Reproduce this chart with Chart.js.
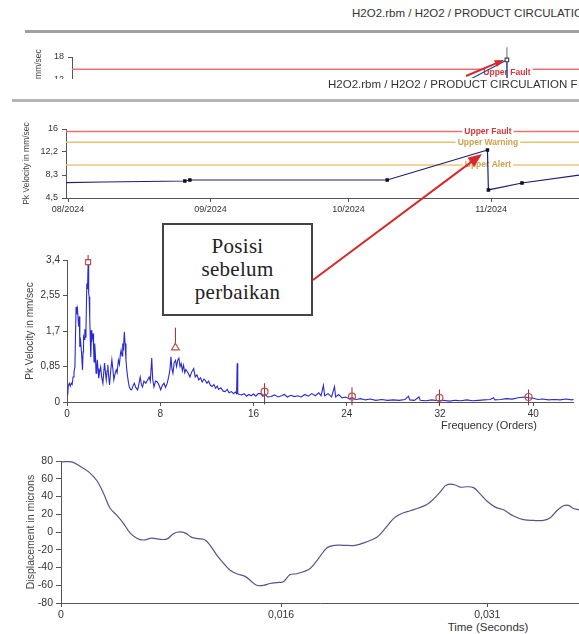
<!DOCTYPE html>
<html>
<head>
<meta charset="utf-8">
<script src="https://cdn.jsdelivr.net/npm/chart.js@4.4.1/dist/chart.umd.min.js"></script>
<style>
  html, body { margin: 0; padding: 0; background: #fff; }
  body { width: 579px; height: 634px; position: relative; overflow: hidden;
         font-family: "Liberation Sans", Arial, sans-serif; }
  .abs { position: absolute; }
  .title { position: absolute; white-space: nowrap; font-size: 11.5px; color: #333; }
  .axtitle { position: absolute; white-space: nowrap; font-size: 11px; color: #333; transform: translate(-50%, -50%); }
  .rule { position: absolute; background: #a0a0a0; }
  #note { position: absolute; left: 162px; top: 223px; width: 151px; height: 93px; box-sizing: border-box;
          border: 2px solid #444; background: #fff; z-index: 5;
          display: flex; flex-direction: column; justify-content: center; align-items: center;
          font-family: "Liberation Serif", "Times New Roman", serif; font-size: 21px; line-height: 23px;
          color: #222; letter-spacing: 0.3px; }
  #ov { position: absolute; left: 0; top: 0; z-index: 10; pointer-events: none; }
</style>
</head>
<body>

<div class="title" style="left:352px; top:7px;">H2O2.rbm / H2O2 / PRODUCT CIRCULATION F</div>
<div class="rule" style="left:25px; top:30px; width:554px; height:3px;"></div>

<div class="abs" style="left:0; top:40px; width:579px; height:39px; overflow:hidden;">
  <canvas id="snip" width="579" height="100" style="position:absolute; left:0; top:0;"></canvas>
</div>
<div class="title" style="left:328px; top:78px; background:#fff;">H2O2.rbm / H2O2 / PRODUCT CIRCULATION F</div>
<div class="rule" style="left:12px; top:99px; width:567px; height:3px; background:#b4b4b4;"></div>

<canvas id="trend" width="579" height="112" class="abs" style="left:0; top:110px;"></canvas>

<div id="note"><div>Posisi</div><div>sebelum</div><div>perbaikan</div></div>

<canvas id="spec" width="579" height="190" class="abs" style="left:0; top:240px;"></canvas>
<div class="axtitle" style="left:489px; top:425px;">Frequency (Orders)</div>

<canvas id="wave" width="579" height="175" class="abs" style="left:0; top:445px;"></canvas>
<div class="axtitle" style="left:488px; top:627px; font-size:11.5px;">Time (Seconds)</div>

<canvas id="ov" width="579" height="634"></canvas>

<script>
// ---- trend: days counted from 01/08/2024 ----
const trendDays = [-0.43, 7.6, 25.4, 26.5, 69.4, 91.2, 91.4, 98.7, 111.1];
const trendVals = [7.05, 7.17, 7.33, 7.5, 7.5, 12.5, 5.85, 7.0, 8.33];
const trendTickDays = [0, 31, 61, 92];
const trendTickLabels = ['08/2024', '09/2024', '10/2024', '11/2024'];
const trendYTicks = [4.5, 8.333, 12.167, 16];
const trendYLabels = ['4,5', '8,3', '12,2', '16'];
const limitNames = ['Upper Fault', 'Upper Warning', 'Upper Alert'];
const limitVals = [15.6, 13.8, 10.0];
const cursorDay = 91.3;

// ---- small cut-off trend at the top ----
const snipDays = [-0.4, 69.3, 91.3, 91.4, 106.5];
const snipVals = [2.3, 2.5, 17.2, 2.0, 3.0];
const snipFault = 14.7;
const snipYTicks = [0, 6, 12, 18];

// ---- spectrum ----
const specOrders = [
  0.05, 0.12, 0.2, 0.28, 0.36, 0.44, 0.52, 0.6, 0.68, 0.73,
  0.78, 0.84, 0.9, 0.96, 1.01, 1.06, 1.1, 1.17, 1.25, 1.29,
  1.33, 1.38, 1.42, 1.48, 1.53, 1.58, 1.63, 1.7, 1.76, 1.81,
  1.86, 1.9, 1.95, 1.98, 2.04, 2.08, 2.12, 2.18, 2.24, 2.28,
  2.32, 2.36, 2.4, 2.45, 2.49, 2.55, 2.6, 2.66, 2.72, 2.8,
  2.89, 2.97, 3.08, 3.15, 3.22, 3.3, 3.37, 3.44, 3.5, 3.58,
  3.65, 3.75, 3.85, 3.93, 4.02, 4.1, 4.22, 4.3, 4.41, 4.5,
  4.58, 4.64, 4.72, 4.78, 4.85, 4.92, 4.98, 5.06, 5.12, 5.2,
  5.28, 5.35, 5.45, 5.55, 5.65, 5.77, 5.9, 6.06, 6.15, 6.28,
  6.38, 6.48, 6.6, 6.76, 6.9, 7.05, 7.15, 7.27, 7.35, 7.46,
  7.6, 7.75, 7.9, 8.04, 8.18, 8.32, 8.45, 8.6, 8.72, 8.83,
  8.92, 9.0, 9.09, 9.2, 9.31, 9.4, 9.5, 9.6, 9.7, 9.8,
  9.9, 10.0, 10.1, 10.2, 10.4, 10.55, 10.7, 10.87, 11.0, 11.15,
  11.3, 11.45, 11.6, 11.75, 11.86, 12.0, 12.15, 12.3, 12.45, 12.6,
  12.75, 12.9, 13.0, 13.2, 13.4, 13.56, 13.75, 13.9, 14.1, 14.3,
  14.45, 14.55, 14.6, 14.65, 14.8, 14.97, 15.2, 15.4, 15.6, 15.8,
  16.0, 16.2, 16.4, 16.6, 16.8, 17.0, 17.2, 17.5, 17.8, 18.1,
  18.4, 18.65, 18.9, 19.2, 19.5, 19.8, 20.1, 20.4, 20.7, 21.0,
  21.3, 21.6, 21.8, 22.0, 22.1, 22.4, 22.7, 22.95, 23.05, 23.3,
  23.6, 23.9, 24.2, 24.5, 24.8, 25.2, 25.6, 26.0, 26.5, 27.0,
  27.5, 28.0, 28.5, 29.0, 29.3, 29.4, 29.8, 30.2, 30.3, 30.8,
  31.3, 31.8, 32.3, 32.8, 33.3, 33.8, 34.3, 34.8, 35.3, 35.8,
  36.3, 36.6, 36.7, 37.2, 37.7, 38.2, 38.7, 39.2, 39.6, 40.0,
  40.4, 40.8, 41.3, 41.8, 42.3, 42.8, 43.3, 43.48
];
const specVals = [
  0.15, 0.40, 0.45, 0.38, 0.45, 0.42, 0.60, 0.72, 0.84, 1.6,
  2.28, 2.1, 2.22, 1.95, 1.8, 2.05, 1.32, 1.45, 1.17, 0.95,
  0.77, 1.2, 1.56, 1.5, 1.74, 1.55, 1.75, 2.84, 2.7, 3.3,
  2.6, 2.52, 2.0, 1.72, 1.08, 1.45, 1.72, 1.5, 1.64, 1.3,
  0.96, 1.2, 1.4, 1.05, 0.69, 0.85, 1.01, 0.8, 0.57, 0.72,
  0.84, 0.6, 0.45, 0.7, 0.93, 0.7, 0.53, 0.75, 0.89, 0.6,
  0.41, 0.75, 1.01, 0.8, 0.53, 0.65, 0.77, 0.7, 1.0, 0.9,
  1.15, 1.24, 1.1, 1.4, 1.3, 1.68, 1.4, 1.0, 0.8, 0.6,
  0.45, 0.36, 0.3, 0.29, 0.38, 0.45, 0.35, 0.29, 0.4, 0.6,
  0.42, 0.36, 0.5, 0.45, 0.52, 0.6, 0.5, 1.05, 0.55, 0.36,
  0.5, 0.48, 0.4, 0.29, 0.4, 0.45, 0.35, 0.45, 0.6, 0.77,
  1.08, 0.8, 0.69, 0.95, 1.0, 0.85, 1.0, 1.05, 0.85, 0.92,
  0.75, 0.88, 0.7, 0.78, 0.69, 0.6, 0.72, 0.8, 0.6, 0.65,
  0.53, 0.58, 0.48, 0.55, 0.52, 0.45, 0.5, 0.4, 0.37, 0.42,
  0.33, 0.38, 0.3, 0.34, 0.26, 0.25, 0.3, 0.22, 0.25, 0.2,
  0.24, 0.2, 0.93, 0.2, 0.18, 0.17, 0.2, 0.14, 0.18, 0.15,
  0.19, 0.14, 0.2, 0.2, 0.14, 0.18, 0.12, 0.13, 0.17, 0.12,
  0.15, 0.18, 0.12, 0.16, 0.13, 0.15, 0.12, 0.18, 0.14, 0.2,
  0.15, 0.22, 0.15, 0.4, 0.15, 0.2, 0.12, 0.37, 0.12, 0.18,
  0.1, 0.12, 0.08, 0.1, 0.06, 0.08, 0.05, 0.07, 0.04, 0.06,
  0.04, 0.05, 0.04, 0.06, 0.14, 0.05, 0.04, 0.12, 0.04, 0.03,
  0.05, 0.03, 0.04, 0.02, 0.04, 0.03, 0.05, 0.03, 0.04, 0.05,
  0.06, 0.1, 0.05, 0.06, 0.08, 0.07, 0.1, 0.12, 0.1, 0.09,
  0.06, 0.07, 0.05, 0.06, 0.05, 0.07, 0.05, 0.06
];
const specXTicks = [0, 8, 16, 24, 32, 40];
const specYTicks = [0, 0.85, 1.7, 2.55, 3.4];
const specYLabels = ['0', '0,85', '1,7', '2,55', '3,4'];
// harmonic cursors
const peakOrders = [1.81, 9.3, 16.95, 24.45, 31.95, 39.6];
const peakVals = [3.35, 1.3, 0.25, 0.13, 0.1, 0.12];
const cursorBottom = [3.39, 1.37, -0.06, -0.08, -0.08, -0.08];
const cursorTop = [3.52, 1.78, 0.45, 0.35, 0.3, 0.3];

// ---- waveform ----
const waveTime = [
  0, 0.00078, 0.00138, 0.00199, 0.0026, 0.00308, 0.00356, 0.00405, 0.00453, 0.00502,
  0.00551, 0.00599, 0.0066, 0.00708, 0.00769, 0.00817, 0.00853, 0.00902, 0.00951, 0.00999,
  0.01048, 0.01084, 0.01133, 0.01181, 0.0123, 0.01278, 0.01339, 0.01387, 0.01424, 0.01472,
  0.01521, 0.01569, 0.01617, 0.01666, 0.01715, 0.01812, 0.01872, 0.01933, 0.01993, 0.02054,
  0.02139, 0.02224, 0.02297, 0.02357, 0.02418, 0.02466, 0.02539, 0.02599, 0.02661, 0.02709,
  0.02757, 0.02794, 0.0283, 0.02867, 0.02903, 0.02952, 0.03, 0.03048, 0.03097, 0.03158,
  0.03218, 0.03291, 0.03363, 0.03436, 0.03509, 0.03558, 0.03606, 0.03654, 0.03691, 0.03727,
  0.03767
];
const waveDisp = [
  79, 79, 74, 68, 58, 44, 27, 19, 10, -1,
  -7, -9, -7, -8, -8, -2, 0, -1, -6, -7.5,
  -9, -15, -26, -35, -43, -47, -50, -56, -60, -60,
  -58, -57, -56, -48, -47, -41, -30, -18, -15, -15,
  -15, -11, -6, 4, 15, 20, 24, 27, 31, 37,
  45, 52, 54, 53, 50.5, 51, 50, 43, 35, 28,
  25, 18, 14, 13, 13, 16, 24, 29.5, 30, 26.5,
  25
];
const waveXTicks = [0, 0.016, 0.031];
const waveXLabels = ['0', '0,016', '0,031'];
const waveYTicks = [-80, -60, -40, -20, 0, 20, 40, 60, 80];

Chart.defaults.font.family = '"Liberation Sans", Arial, sans-serif';
Chart.defaults.color = '#333';
Chart.defaults.animation = false;
Chart.defaults.plugins.legend.display = false;
Chart.defaults.plugins.tooltip.enabled = false;

const pts = (xs, ys) => xs.map((x, i) => ({ x: x, y: ys[i] }));
const AXIS = '#555';

// axis with explicit ticks
function axis(opts) {
  return {
    type: 'linear',
    min: opts.min,
    max: opts.max,
    afterBuildTicks: s => { s.ticks = opts.ticks.map(v => ({ value: v })); },
    afterFit: s => { if (opts.size == null) return; if (s.isHorizontal()) s.height = opts.size; else s.width = opts.size; },
    ticks: {
      autoSkip: false, maxRotation: 0, padding: opts.pad || 3, color: '#333',
      font: { size: opts.font || 10 },
      callback: (v, i) => opts.labels ? opts.labels[i] : String(v)
    },
    grid: { drawOnChartArea: false, tickLength: opts.tick || 4, color: AXIS },
    border: { color: AXIS, width: 1 },
    title: opts.title ? { display: true, text: opts.title, color: '#444',
                          font: { size: opts.titleSize || 10 }, padding: { top: 4, bottom: 4 } } : { display: false }
  };
}

// writes the limit name over its own threshold line
const limitLabels = {
  id: 'limitLabels',
  afterDatasetDraw(chart, args) {
    const ds = chart.data.datasets[args.index];
    if (!ds.limitName) return;
    const { ctx, scales: { x, y } } = chart;
    const px = x.getPixelForValue(ds.labelAt);
    const py = y.getPixelForValue(ds.data[0].y) + (ds.labelDy || 0);
    ctx.save();
    ctx.font = 'bold 8.5px "Liberation Sans", Arial, sans-serif';
    ctx.textAlign = 'center';
    ctx.textBaseline = 'middle';
    const w = ctx.measureText(ds.limitName).width + 4;
    ctx.fillStyle = '#fff';
    ctx.fillRect(px - w / 2, py - 5, w, 10);
    ctx.fillStyle = ds.labelColor;
    ctx.fillText(ds.limitName, px, py);
    ctx.restore();
  }
};

const limitColors = ['#e77272', '#e3c56e', '#e9c77a'];
const limitTextColors = ['#d9363a', '#cfa04a', '#cfa04a'];

// ---- trend chart ----
const trendMin = -0.435, trendMax = 111.1;
new Chart(document.getElementById('trend'), {
  type: 'line',
  data: {
    datasets: [
      {
        data: pts(trendDays, trendVals),
        borderColor: '#1f1f70', borderWidth: 1.2,
        pointStyle: 'rect', pointBackgroundColor: '#111', pointBorderColor: '#111',
        pointRadius: c => (c.dataIndex <= 1 || c.dataIndex === trendDays.length - 1) ? 0 : 1.6
      },
      ...limitVals.map((v, i) => ({
        data: [{ x: trendMin, y: v }, { x: trendMax, y: v }],
        borderColor: limitColors[i], borderWidth: 1.5, pointRadius: 0,
        limitName: limitNames[i], labelAt: cursorDay, labelColor: limitTextColors[i]
      }))
    ]
  },
  options: {
    responsive: false, devicePixelRatio: 1,
    layout: { padding: { left: 18, top: 19, right: 0, bottom: 0 } },
    scales: {
      x: axis({ min: trendMin, max: trendMax, ticks: trendTickDays, labels: trendTickLabels, size: 24, font: 9, pad: 2 }),
      y: axis({ min: 4.5, max: 16, ticks: trendYTicks, labels: trendYLabels, size: 48, font: 9, pad: 4,
                title: 'Pk Velocity in mm/sec', titleSize: 8.5 })
    }
  },
  plugins: [limitLabels]
});

// ---- top cut-off trend ----
const snipMin = -0.4, snipMax = 106.5;
new Chart(document.getElementById('snip'), {
  type: 'line',
  data: {
    datasets: [
      {
        data: pts(snipDays, snipVals),
        borderColor: '#2d3f9a', borderWidth: 1.2,
        pointStyle: 'rect', pointBackgroundColor: '#fff', pointBorderColor: '#444',
        pointRadius: c => c.dataIndex === 2 ? 2.5 : 0
      },
      {
        data: [{ x: cursorDay, y: 20.6 }, { x: cursorDay, y: 0 }],
        borderColor: '#8c8c8c', borderWidth: 1.3, pointRadius: 0, clip: false
      },
      {
        data: [{ x: snipMin, y: snipFault }, { x: snipMax, y: snipFault }],
        borderColor: '#e77272', borderWidth: 1.5, pointRadius: 0,
        limitName: 'Upper Fault', labelAt: cursorDay, labelColor: '#d9363a', labelDy: 3
      }
    ]
  },
  options: {
    responsive: false, devicePixelRatio: 1,
    layout: { padding: { left: 30, top: 17, right: 0, bottom: 0 } },
    scales: {
      x: axis({ min: snipMin, max: snipMax, ticks: [], size: 16 }),
      y: axis({ min: 0, max: 18, ticks: snipYTicks, size: 42, font: 9, pad: 4,
                title: 'Pk Velocity in mm/sec', titleSize: 8.5 })
    }
  },
  plugins: [limitLabels]
});

// ---- spectrum ----
const cursorPts = [];
peakOrders.forEach((o, i) => {
  cursorPts.push({ x: o, y: cursorBottom[i] }, { x: o, y: cursorTop[i] }, { x: o, y: null });
});
new Chart(document.getElementById('spec'), {
  type: 'line',
  data: {
    datasets: [
      {
        data: pts(peakOrders, peakVals), showLine: false, clip: false,
        pointStyle: ['rect', 'triangle', 'circle', 'circle', 'circle', 'circle'],
        pointRadius: [3.5, 4.5, 3.5, 3.5, 3.5, 3.5],
        pointBorderColor: '#c0504d', pointBackgroundColor: 'rgba(255,255,255,0)', pointBorderWidth: 1.2
      },
      {
        data: cursorPts, borderColor: '#7a3030', borderWidth: 1, pointRadius: 0, spanGaps: false, clip: false
      },
      {
        data: pts(specOrders, specVals),
        borderColor: '#2a2ad2', borderWidth: 1.1, pointRadius: 0
      }
    ]
  },
  options: {
    responsive: false, devicePixelRatio: 1,
    layout: { padding: { left: 20, top: 20, right: 0, bottom: 0 } },
    scales: {
      x: axis({ min: 0, max: 43.48, ticks: specXTicks, size: 28, font: 10, pad: 2 }),
      y: axis({ min: 0, max: 3.4, ticks: specYTicks, labels: specYLabels, size: 47, font: 10, pad: 3,
                title: 'Pk Velocity in mm/sec', titleSize: 10 })
    }
  }
});

// ---- waveform ----
new Chart(document.getElementById('wave'), {
  type: 'line',
  data: {
    datasets: [{
      data: pts(waveTime, waveDisp),
      borderColor: '#55558c', borderWidth: 1.2, pointRadius: 0, tension: 0.35
    }]
  },
  options: {
    responsive: false, devicePixelRatio: 1,
    layout: { padding: { left: 21, top: 16, right: 0, bottom: 0 } },
    scales: {
      x: axis({ min: 0, max: 0.03767, ticks: waveXTicks, labels: waveXLabels, size: 17, font: 10.5, pad: 2 }),
      y: axis({ min: -80, max: 80, ticks: waveYTicks, size: 40, font: 10.5, pad: 3, tick: 5,
                title: 'Displacement in microns', titleSize: 10.5 })
    }
  }
});

// ---- red annotation arrows ----
function arrow(ctx, x1, y1, x2, y2, head, width) {
  const a = Math.atan2(y2 - y1, x2 - x1);
  ctx.strokeStyle = ctx.fillStyle = '#d62a2a';
  ctx.lineWidth = width;
  ctx.beginPath();
  ctx.moveTo(x1, y1);
  ctx.lineTo(x2 - head * 0.8 * Math.cos(a), y2 - head * 0.8 * Math.sin(a));
  ctx.stroke();
  ctx.beginPath();
  ctx.moveTo(x2, y2);
  ctx.lineTo(x2 - head * Math.cos(a - 0.38), y2 - head * Math.sin(a - 0.38));
  ctx.lineTo(x2 - head * Math.cos(a + 0.38), y2 - head * Math.sin(a + 0.38));
  ctx.closePath();
  ctx.fill();
}
const ov = document.getElementById('ov').getContext('2d');
arrow(ov, 313, 280, 482, 154, 15, 2);
arrow(ov, 466, 76, 504, 60, 10, 2);
</script>
</body>
</html>
